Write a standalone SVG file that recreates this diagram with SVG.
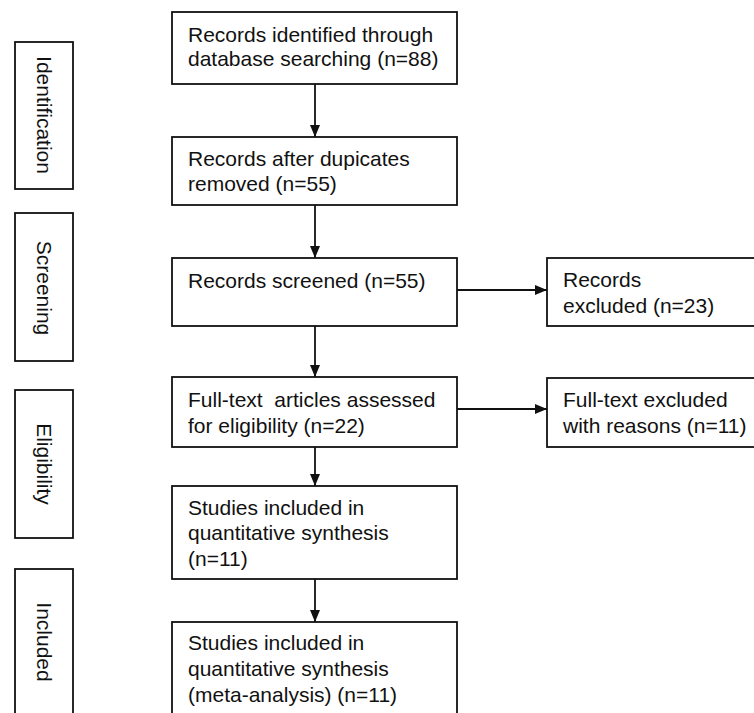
<svg xmlns="http://www.w3.org/2000/svg" width="754" height="713" viewBox="0 0 754 713">
<style>
.box{fill:#fff;stroke:#111;stroke-width:1.8}
.t{font-family:"Liberation Sans",Arial,sans-serif;font-size:21px;fill:#111}
.side{font-family:"Liberation Sans",Arial,sans-serif;font-size:21px;fill:#111;text-anchor:middle}
.c{stroke:#111;stroke-width:1.8;fill:none;marker-end:url(#ah)}
</style>
<defs>
<marker id="ah" viewBox="0 0 12 10" refX="12" refY="5" markerWidth="12" markerHeight="10" markerUnits="userSpaceOnUse" orient="auto">
<path d="M0,0 L12,5 L0,10 Z" fill="#111"/>
</marker>
</defs>
<rect width="754" height="713" fill="#fff"/>
<g id="side-identification">
<rect class="box" x="15" y="42" width="58" height="147"/>
<text class="side" transform="translate(36.5,115) rotate(90)">Identification</text>
</g>
<g id="side-screening">
<rect class="box" x="15" y="213" width="58" height="148"/>
<text class="side" transform="translate(36.5,288) rotate(90)">Screening</text>
</g>
<g id="side-eligibility">
<rect class="box" x="15" y="390" width="58" height="148"/>
<text class="side" transform="translate(36.5,464) rotate(90)">Eligibility</text>
</g>
<g id="side-included">
<rect class="box" x="15" y="569" width="58" height="160"/>
<text class="side" transform="translate(36.5,642) rotate(90)">Included</text>
</g>
<g id="n1">
<rect class="box" x="172" y="12" width="285" height="72"/>
<text class="t" x="188" y="42">Records identified through</text>
<text class="t" x="188" y="66">database searching (n=88)</text>
</g>
<g id="n2">
<rect class="box" x="172" y="137" width="285" height="68"/>
<text class="t" x="188" y="166">Records after dupicates</text>
<text class="t" x="188" y="191">removed (n=55)</text>
</g>
<g id="n3">
<rect class="box" x="172" y="258" width="285" height="68"/>
<text class="t" x="188" y="288">Records screened (n=55)</text>
</g>
<g id="n3x">
<rect class="box" x="547" y="258" width="215" height="68"/>
<text class="t" x="563" y="287">Records</text>
<text class="t" x="563" y="313">excluded (n=23)</text>
</g>
<g id="n4">
<rect class="box" x="172" y="377" width="285" height="70"/>
<text class="t" x="188" y="407" xml:space="preserve">Full-text  articles assessed</text>
<text class="t" x="188" y="433">for eligibility (n=22)</text>
</g>
<g id="n4x">
<rect class="box" x="547" y="378" width="215" height="69"/>
<text class="t" x="563" y="407">Full-text excluded</text>
<text class="t" x="563" y="433">with reasons (n=11)</text>
</g>
<g id="n5">
<rect class="box" x="172" y="486" width="285" height="93"/>
<text class="t" x="188" y="515">Studies included in</text>
<text class="t" x="188" y="540">quantitative synthesis</text>
<text class="t" x="188" y="566">(n=11)</text>
</g>
<g id="n6">
<rect class="box" x="172" y="622" width="285" height="110"/>
<text class="t" x="188" y="650">Studies included in</text>
<text class="t" x="188" y="676">quantitative synthesis</text>
<text class="t" x="188" y="702">(meta-analysis) (n=11)</text>
</g>
<g id="connectors">
<line class="c" x1="315" y1="84" x2="315" y2="137"/>
<line class="c" x1="315" y1="205" x2="315" y2="258"/>
<line class="c" x1="315" y1="326" x2="315" y2="377"/>
<line class="c" x1="315" y1="447" x2="315" y2="486"/>
<line class="c" x1="315" y1="579" x2="315" y2="622"/>
<line class="c" x1="457" y1="290" x2="547" y2="290"/>
<line class="c" x1="457" y1="409" x2="547" y2="409"/>
</g>
</svg>
